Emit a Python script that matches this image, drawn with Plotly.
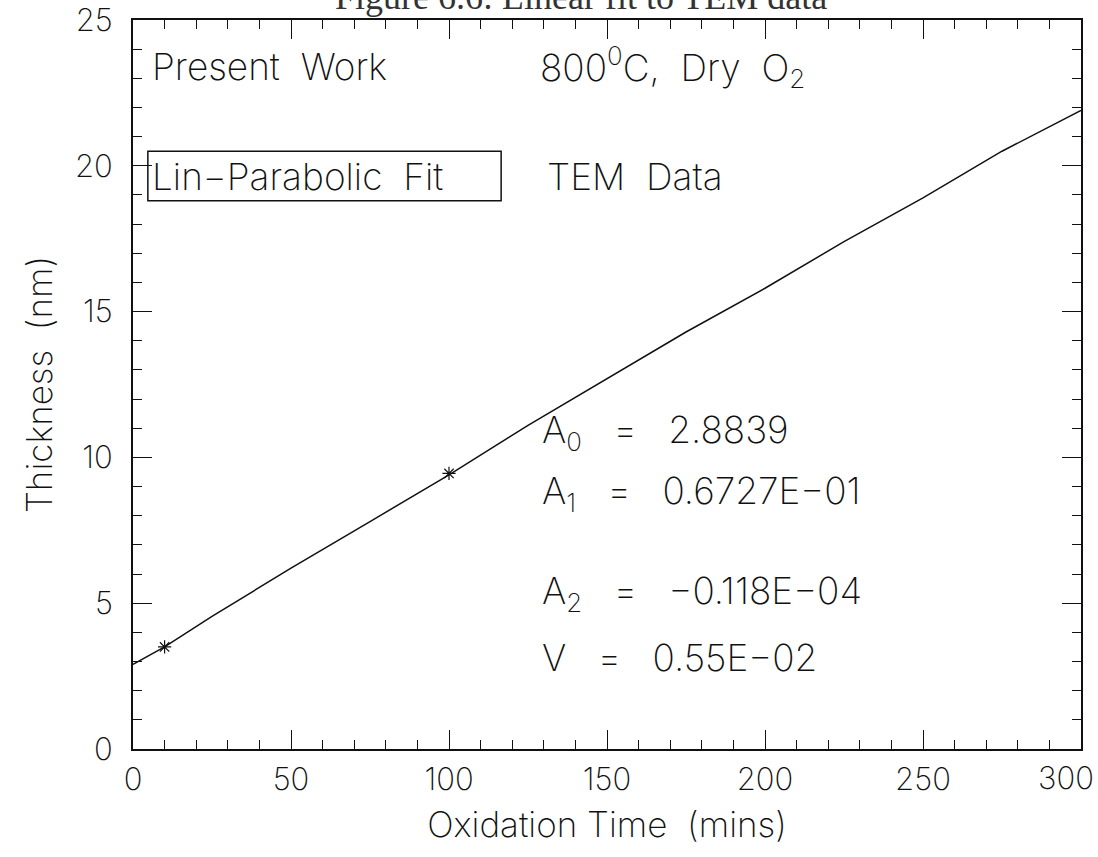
import plotly.graph_objects as go

# Lin-parabolic fit curve
fit_time = [0, 10, 25, 50, 75, 100, 125, 150, 175, 200, 225, 250, 275, 300]
fit_thickness = [2.9, 3.5, 4.55, 6.2, 7.8, 9.4, 11.1, 12.7, 14.3, 15.8, 17.4, 18.9, 20.5, 21.9]

# TEM data points
tem_time = [10, 100]
tem_thickness = [3.5, 9.45]

x_ticks = [0, 50, 100, 150, 200, 250, 300]
x_labels = ["0", "50", "100", "150", "200", "250", ""]  # last one drawn below, pulled inside
y_ticks = [0, 5, 10, 15, 20, 25]

FONT = "Inter"
INK = "#111111"

fig = go.Figure()
fig.add_trace(go.Scatter(
    x=fit_time, y=fit_thickness, mode="lines",
    line=dict(color=INK, width=1.5), showlegend=False,
))
fig.add_trace(go.Scatter(
    x=tem_time, y=tem_thickness, mode="markers",
    marker=dict(symbol="asterisk-open", size=11, color=INK,
                line=dict(color=INK, width=1.2)),
    showlegend=False,
))

tick_font = dict(family=FONT, size=31, color=INK, weight=200)
axis_common = dict(
    showgrid=False, zeroline=False, showline=True, linecolor=INK, linewidth=2,
    mirror="ticks", ticks="inside", ticklen=19, tickwidth=1.2, tickcolor=INK,
    tickfont=tick_font, automargin=False,
)
fig.update_xaxes(
    range=[0, 300], tickvals=x_ticks, ticktext=x_labels, ticklabelstandoff=2,
    minor=dict(dtick=10, ticks="inside", ticklen=9, tickwidth=1.2, tickcolor=INK),
    title=dict(text="Oxidation Time  (mins)", standoff=16,
               font=dict(family=FONT, size=35, color=INK, weight=200)),
    **axis_common,
)
fig.update_yaxes(
    range=[0, 25], tickvals=y_ticks, ticklabelstandoff=12,
    minor=dict(dtick=1, ticks="inside", ticklen=9, tickwidth=1.2, tickcolor=INK),
    title=dict(text="Thickness  (nm)", standoff=12,
               font=dict(family=FONT, size=35, color=INK, weight=200)),
    **axis_common,
)

# the 300 label sits just inside the page edge
fig.add_annotation(x=x_ticks[-1], y=0, xref="x", yref="y", text="300",
                   showarrow=False, xanchor="right", yanchor="middle",
                   xshift=15, yshift=-28, font=tick_font)

txt = dict(family=FONT, size=37, color=INK, weight=200)


def note(x, y, text):
    fig.add_annotation(x=x, y=y, xref="x", yref="y", text=text, showarrow=False,
                       xanchor="left", yanchor="middle", font=txt)


note(5.5, 23.4, "Present  Work")
note(128.3, 23.4, "800<sup>0</sup>C,  Dry  O<sub>2</sub>")
note(5.5, 19.65, "Lin\u2212Parabolic  Fit")
note(130.5, 19.65, "TEM  Data")
note(128.8, 10.87, "A<sub>0</sub>   =   2.8839")
note(128.8, 8.77, "A<sub>1</sub>   =   0.6727E\u221201")
note(128.8, 5.35, "A<sub>2</sub>   =   \u22120.118E\u221204")
note(128.8, 3.15, "V   =   0.55E\u221202")

fig.add_shape(type="rect", xref="x", yref="y", x0=4.7, x1=116.5, y0=18.8, y1=20.5,
              line=dict(color=INK, width=1.5))

# partially cut caption at the top of the page
fig.add_annotation(x=0.473, y=1.0, xref="paper", yref="paper", yshift=23,
                   text="Figure 6.6: Linear fit to TEM data", showarrow=False,
                   xanchor="center", yanchor="middle",
                   font=dict(family="Liberation Serif", size=36, color="#333333"))

fig.update_layout(
    width=1098, height=857,
    margin=dict(l=133, r=17, t=20, b=108),
    paper_bgcolor="white", plot_bgcolor="white",
)

# drop the browser's default body margin so the figure fills the window
fig.write_html("out.html", config={"displayModeBar": False},
               post_script="document.body.style.margin='0';")
